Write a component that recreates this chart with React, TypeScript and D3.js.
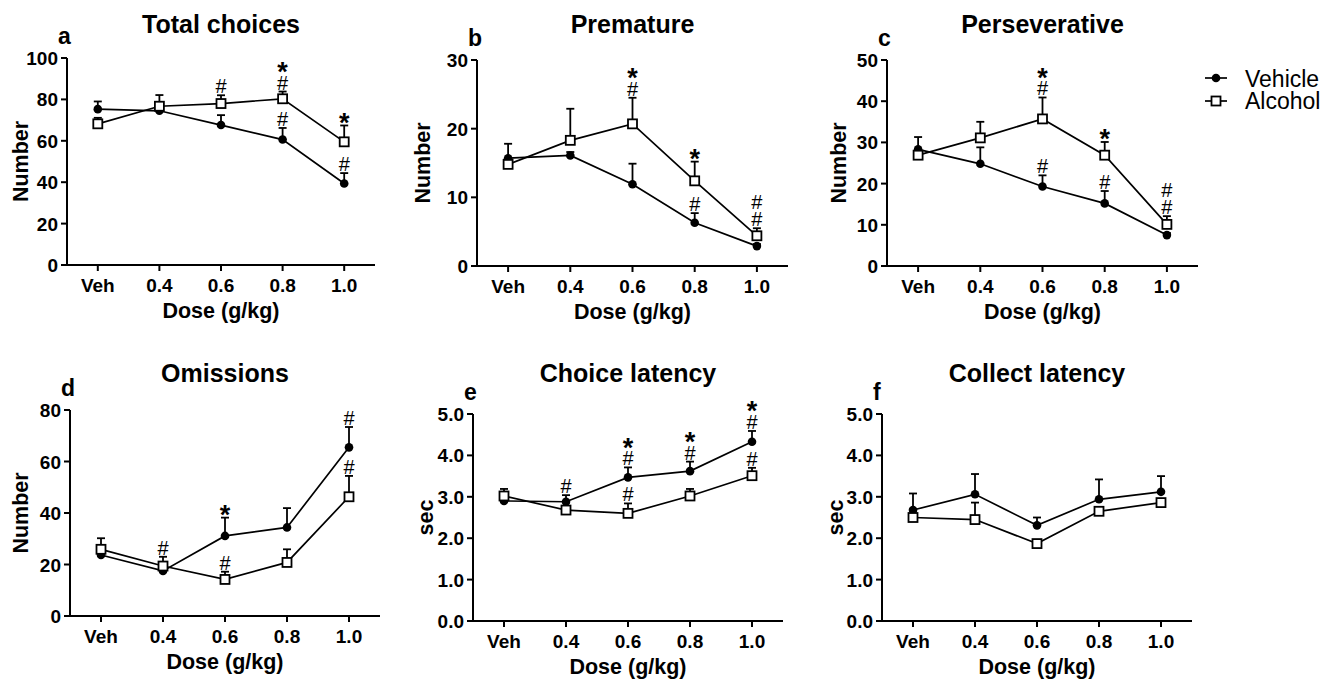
import React from 'react';
import * as d3 from 'd3';

// dose levels on the x axis
const doses = ['Veh', '0.4', '0.6', '0.8', '1.0'];

// a - Total choices
const totalVeh = [75.3, 74.5, 67.6, 60.6, 39.4];
const totalVehErr = [3.7, 1.5, 4.8, 5.6, 5.0];
const totalAlc = [68.2, 76.7, 78.0, 80.3, 59.5];
const totalAlcErr = [2.9, 5.4, 4.0, 3.5, 7.9];

// b - Premature
const premVeh = [15.7, 16.1, 11.9, 6.3, 2.9];
const premVehErr = [2.1, 0.5, 3.0, 1.4, 0.3];
const premAlc = [14.8, 18.3, 20.7, 12.4, 4.4];
const premAlcErr = [0.6, 4.6, 3.8, 2.8, 1.1];

// c - Perseverative
const persVeh = [28.3, 24.8, 19.3, 15.2, 7.5];
const persVehErr = [3.0, 4.0, 2.7, 3.0, 0.5];
const persAlc = [26.9, 31.1, 35.7, 26.9, 10.1];
const persAlcErr = [0.8, 3.9, 5.2, 3.2, 2.0];

// d - Omissions
const omVeh = [23.7, 17.5, 31.1, 34.4, 65.5];
const omVehErr = [1.0, 1.0, 7.1, 7.5, 7.9];
const omAlc = [25.9, 19.4, 14.2, 20.8, 46.3];
const omAlcErr = [4.3, 3.6, 3.0, 5.1, 8.1];

// e - Choice latency
const choiceVeh = [2.9, 2.88, 3.47, 3.62, 4.33];
const choiceVehErr = [0.05, 0.16, 0.24, 0.23, 0.26];
const choiceAlc = [3.02, 2.68, 2.6, 3.02, 3.51];
const choiceAlcErr = [0.17, 0.05, 0.24, 0.17, 0.19];

// f - Collect latency
const collVeh = [2.68, 3.06, 2.31, 2.94, 3.12];
const collVehErr = [0.4, 0.49, 0.19, 0.48, 0.38];
const collAlc = [2.5, 2.45, 1.87, 2.65, 2.86];
const collAlcErr = [0.05, 0.41, 0.05, 0.05, 0.05];

// significance marks: dose index, series, symbols from bottom to top
type Mark = { i: number; s: 'veh' | 'alc'; m: string[] };
const totalMarks: Mark[] = [
  { i: 2, s: 'alc', m: ['#'] },
  { i: 3, s: 'alc', m: ['#', '*'] },
  { i: 3, s: 'veh', m: ['#'] },
  { i: 4, s: 'alc', m: ['*'] },
  { i: 4, s: 'veh', m: ['#'] },
];
const premMarks: Mark[] = [
  { i: 2, s: 'alc', m: ['#', '*'] },
  { i: 3, s: 'alc', m: ['*'] },
  { i: 3, s: 'veh', m: ['#'] },
  { i: 4, s: 'alc', m: ['#', '#'] },
];
const persMarks: Mark[] = [
  { i: 2, s: 'alc', m: ['#', '*'] },
  { i: 2, s: 'veh', m: ['#'] },
  { i: 3, s: 'alc', m: ['*'] },
  { i: 3, s: 'veh', m: ['#'] },
  { i: 4, s: 'alc', m: ['#', '#'] },
];
const omMarks: Mark[] = [
  { i: 1, s: 'alc', m: ['#'] },
  { i: 2, s: 'veh', m: ['*'] },
  { i: 2, s: 'alc', m: ['#'] },
  { i: 4, s: 'veh', m: ['#'] },
  { i: 4, s: 'alc', m: ['#'] },
];
const choiceMarks: Mark[] = [
  { i: 1, s: 'veh', m: ['#'] },
  { i: 2, s: 'veh', m: ['#', '*'] },
  { i: 2, s: 'alc', m: ['#'] },
  { i: 3, s: 'veh', m: ['#', '*'] },
  { i: 4, s: 'veh', m: ['#', '*'] },
  { i: 4, s: 'alc', m: ['#'] },
];

const FONT = '"Liberation Sans", Arial, Helvetica, sans-serif';

type PanelProps = {
  letter: string;
  title: string;
  yLabel: string;
  yMax: number;
  yStep: number;
  fmt: string;
  veh: number[];
  vehErr: number[];
  alc: number[];
  alcErr: number[];
  marks: Mark[];
  left: number;
  right: number;
  top: number;
  bottom: number;
  titleY: number;
  yLabelOff: number;
};

function Panel(p: PanelProps) {
  const x = d3.scalePoint<string>().domain(doses).range([p.left, p.right]).padding(0.5);
  const y = d3.scaleLinear().domain([0, p.yMax]).range([p.bottom, p.top]);
  const ticks = d3.range(0, p.yMax + p.yStep / 2, p.yStep);
  const fmt = d3.format(p.fmt);
  const line = d3
    .line<number>()
    .x((_, i) => x(doses[i]) as number)
    .y((d) => y(d));

  const errBars = (vals: number[], errs: number[], key: string) =>
    vals.map((v, i) => {
      const cx = x(doses[i]) as number;
      const y0 = y(v);
      const y1 = y(v + errs[i]);
      return (
        <g key={key + i}>
          <line x1={cx} x2={cx} y1={y0} y2={y1} stroke="#000" strokeWidth={1.8} />
          <line x1={cx - 4} x2={cx + 4} y1={y1} y2={y1} stroke="#000" strokeWidth={1.8} />
        </g>
      );
    });

  const markTop = (m: Mark) => {
    const vals = m.s === 'veh' ? p.veh : p.alc;
    const errs = m.s === 'veh' ? p.vehErr : p.alcErr;
    return Math.min(y(vals[m.i] + errs[m.i]), y(vals[m.i]) - 5);
  };

  // one text per stack, symbols as tspans (baseline offset depends on glyph)
  const baseOff = (s: string) => (s === '#' ? 7 : 15.5);

  return (
    <g>
      <text x={(p.left + p.right) / 2} y={p.titleY + 9} textAnchor="middle" fontSize={25} fontWeight="bold">
        {p.title}
      </text>
      <text x={p.left - 9} y={p.top - 14} fontSize={23} fontWeight="bold">
        {p.letter}
      </text>
      {/* y axis */}
      <line x1={p.left} x2={p.left} y1={p.top} y2={p.bottom + 1} stroke="#000" strokeWidth={2} />
      {ticks.map((t) => (
        <g key={'yt' + t}>
          <line x1={p.left - 6} x2={p.left} y1={y(t)} y2={y(t)} stroke="#000" strokeWidth={2} />
          <text x={p.left - 9} y={y(t) + 7} textAnchor="end" fontSize={19} fontWeight="bold">
            {fmt(t)}
          </text>
        </g>
      ))}
      <text
        transform={`translate(${p.left + p.yLabelOff},${(p.top + p.bottom) / 2}) rotate(-90)`}
        textAnchor="middle"
        dy="0.36em"
        fontSize={21.5}
        fontWeight="bold"
      >
        {p.yLabel}
      </text>
      {/* x axis */}
      <line x1={p.left - 1} x2={p.right} y1={p.bottom} y2={p.bottom} stroke="#000" strokeWidth={2} />
      {doses.map((d) => (
        <g key={'xt' + d}>
          <line x1={x(d)} x2={x(d)} y1={p.bottom} y2={p.bottom + 6} stroke="#000" strokeWidth={2} />
          <text x={x(d)} y={p.bottom + 27} textAnchor="middle" fontSize={19} fontWeight="bold">
            {d}
          </text>
        </g>
      ))}
      <text x={(p.left + p.right) / 2} y={p.bottom + 53} textAnchor="middle" fontSize={21.5} fontWeight="bold">
        Dose (g/kg)
      </text>
      {errBars(p.veh, p.vehErr, 've')}
      {errBars(p.alc, p.alcErr, 'ae')}
      <path d={line(p.veh) as string} fill="none" stroke="#000" strokeWidth={1.7} />
      <path d={line(p.alc) as string} fill="none" stroke="#000" strokeWidth={1.7} />
      {p.veh.map((v, i) => (
        <circle key={'vc' + i} cx={x(doses[i])} cy={y(v)} r={4.3} fill="#000" />
      ))}
      {p.alc.map((v, i) => (
        <rect
          key={'ar' + i}
          x={(x(doses[i]) as number) - 4.5}
          y={y(v) - 4.5}
          width={9}
          height={9}
          fill="#fff"
          stroke="#000"
          strokeWidth={1.8}
        />
      ))}
      {p.marks.map((m, k) => {
        const top = markTop(m);
        const cx = x(doses[m.i]) as number;
        return (
          <text key={'mk' + k} textAnchor="middle" fill="#000">
            {m.m.map((s, j) => {
              const cy = top - 9 - 17 * j;
              return (
                <tspan
                  key={j}
                  x={cx}
                  y={cy + baseOff(s)}
                  fontSize={s === '#' ? 20 : 27}
                  fontWeight={s === '#' ? 'normal' : 'bold'}
                >
                  {s}
                </tspan>
              );
            })}
          </text>
        );
      })}
    </g>
  );
}

export default function App() {
  return (
    <svg
      width={1328}
      height={680}
      style={{ position: 'absolute', left: 0, top: 0, background: '#fff' }}
      fontFamily={FONT}
      fill="#000"
    >
      <Panel letter="a" title="Total choices" yLabel="Number" yMax={100} yStep={20} fmt="d"
        veh={totalVeh} vehErr={totalVehErr} alc={totalAlc} alcErr={totalAlcErr} marks={totalMarks}
        left={67} right={375} top={58} bottom={265} titleY={24} yLabelOff={-47} />
      <Panel letter="b" title="Premature" yLabel="Number" yMax={30} yStep={10} fmt="d"
        veh={premVeh} vehErr={premVehErr} alc={premAlc} alcErr={premAlcErr} marks={premMarks}
        left={477} right={788} top={60} bottom={266} titleY={24} yLabelOff={-55} />
      <Panel letter="c" title="Perseverative" yLabel="Number" yMax={50} yStep={10} fmt="d"
        veh={persVeh} vehErr={persVehErr} alc={persAlc} alcErr={persAlcErr} marks={persMarks}
        left={887} right={1198} top={60} bottom={266} titleY={24} yLabelOff={-49} />
      <Panel letter="d" title="Omissions" yLabel="Number" yMax={80} yStep={20} fmt="d"
        veh={omVeh} vehErr={omVehErr} alc={omAlc} alcErr={omAlcErr} marks={omMarks}
        left={70} right={380} top={410} bottom={616} titleY={373} yLabelOff={-50} />
      <Panel letter="e" title="Choice latency" yLabel="sec" yMax={5} yStep={1} fmt=".1f"
        veh={choiceVeh} vehErr={choiceVehErr} alc={choiceAlc} alcErr={choiceAlcErr} marks={choiceMarks}
        left={473} right={783} top={414} bottom={621} titleY={373} yLabelOff={-48} />
      <Panel letter="f" title="Collect latency" yLabel="sec" yMax={5} yStep={1} fmt=".1f"
        veh={collVeh} vehErr={collVehErr} alc={collAlc} alcErr={collAlcErr} marks={[]}
        left={882} right={1192} top={414} bottom={621} titleY={373} yLabelOff={-47} />
      {/* legend */}
      <g>
        <line x1={1205} x2={1227} y1={78} y2={78} stroke="#000" strokeWidth={1.7} />
        <circle cx={1216} cy={78} r={4.3} fill="#000" />
        <text x={1245} y={87} fontSize={23}>Vehicle</text>
        <line x1={1205} x2={1227} y1={101} y2={101} stroke="#000" strokeWidth={1.7} />
        <rect x={1211.5} y={96.5} width={9} height={9} fill="#fff" stroke="#000" strokeWidth={1.8} />
        <text x={1245} y={109} fontSize={23}>Alcohol</text>
      </g>
    </svg>
  );
}
